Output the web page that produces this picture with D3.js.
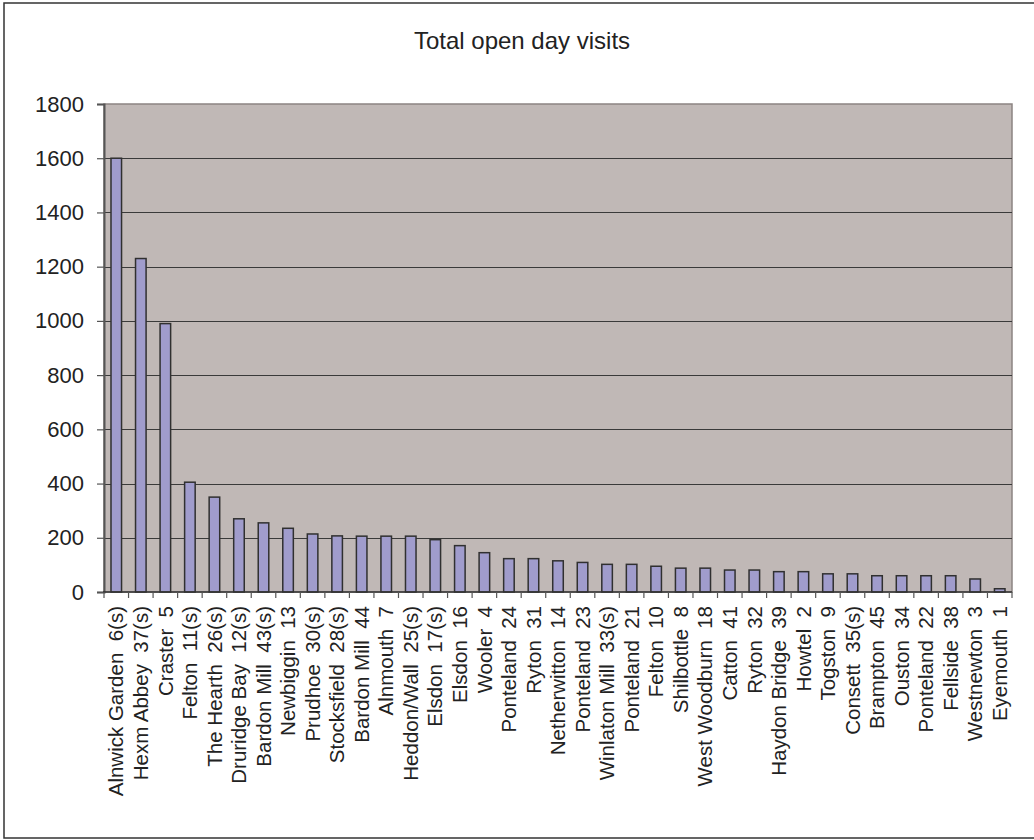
<!DOCTYPE html>
<html>
<head>
<meta charset="utf-8">
<script src="https://cdn.jsdelivr.net/npm/d3@7"></script>
<style>
  html, body { margin: 0; padding: 0; background: #fff; }
  svg { display: block; font-family: "Liberation Sans", Arial, sans-serif; }
</style>
</head>
<body>
<svg id="chart" width="1034" height="840"></svg>
<script>
// Open-day sites, in the order shown
const sites = [
  "Alnwick Garden  6(s)", "Hexm Abbey  37(s)", "Craster  5", "Felton  11(s)",
  "The Hearth  26(s)", "Druridge Bay  12(s)", "Bardon Mill  43(s)", "Newbiggin  13",
  "Prudhoe  30(s)", "Stocksfield  28(s)", "Bardon Mill  44", "Alnmouth  7",
  "Heddon/Wall  25(s)", "Elsdon  17(s)", "Elsdon  16", "Wooler  4",
  "Ponteland  24", "Ryton  31", "Netherwitton  14", "Ponteland  23",
  "Winlaton Mill  33(s)", "Ponteland  21", "Felton  10", "Shilbottle  8",
  "West Woodburn  18", "Catton  41", "Ryton  32", "Haydon Bridge  39",
  "Howtel  2", "Togston  9", "Consett  35(s)", "Brampton  45",
  "Ouston  34", "Ponteland  22", "Fellside  38", "Westnewton  3", "Eyemouth  1"
];

// Total visits per site
const visits = [
  1600, 1230, 990, 405,
  350, 270, 255, 235,
  214, 207, 206, 206,
  206, 193, 171, 145,
  123, 123, 115, 109,
  102, 102, 95, 88,
  88, 81, 81, 75,
  75, 67, 67, 60,
  60, 60, 60, 48, 12
];

const yTicks = [0, 200, 400, 600, 800, 1000, 1200, 1400, 1600, 1800];
const chartTitle = "Total open day visits";

const svg = d3.select("#chart");
const plot = { left: 104, top: 104, right: 1012, bottom: 592 };

// Outer frame
svg.append("rect")
  .attr("x", 4).attr("y", 3)
  .attr("width", 1040).attr("height", 835)
  .attr("fill", "#fff").attr("stroke", "#333").attr("stroke-width", 1.5);

const x = d3.scaleBand()
  .domain(sites)
  .range([plot.left, plot.right])
  .paddingInner(0.57)
  .paddingOuter(0.285);

const y = d3.scaleLinear()
  .domain([0, 1800])
  .range([plot.bottom, plot.top]);

// Plot area background
svg.append("rect")
  .attr("x", plot.left).attr("y", plot.top)
  .attr("width", plot.right - plot.left).attr("height", plot.bottom - plot.top)
  .attr("fill", "#c0b8b6")
  .attr("stroke", "#8c8482").attr("stroke-width", 1.5);

// Horizontal gridlines
svg.append("g")
  .selectAll("line")
  .data(yTicks.filter(d => d > 0 && d < 1800))
  .join("line")
  .attr("x1", plot.left).attr("x2", plot.right)
  .attr("y1", d => Math.round(y(d)) + 0.5).attr("y2", d => Math.round(y(d)) + 0.5)
  .attr("stroke", "#3a3a3a").attr("stroke-width", 1);

// Bars
svg.append("g")
  .selectAll("rect")
  .data(sites)
  .join("rect")
  .attr("x", d => x(d))
  .attr("y", (d, i) => y(visits[i]))
  .attr("width", x.bandwidth())
  .attr("height", (d, i) => y(0) - y(visits[i]))
  .attr("fill", "#a09ccc")
  .attr("stroke", "#303030")
  .attr("stroke-width", 1.5);

// Y axis
const yAxis = svg.append("g")
  .attr("transform", `translate(${plot.left},0)`)
  .call(d3.axisLeft(y).tickValues(yTicks).tickSize(7).tickPadding(13).tickFormat(d3.format("d")));
yAxis.select(".domain").attr("stroke", "#555").attr("stroke-width", 2);
yAxis.selectAll(".tick line").attr("stroke", "#555").attr("stroke-width", 1.2);
yAxis.selectAll(".tick text")
  .attr("fill", "#222")
  .style("font-size", "22px")
  .style("font-family", "'Liberation Sans', Arial, sans-serif");

// X axis: tick marks on band boundaries, rotated labels at band centres
const xAxisG = svg.append("g");
const step = x.step();
const boundaries = d3.range(sites.length + 1).map(i => plot.left + i * step);
xAxisG.append("line")
  .attr("x1", plot.left - 1).attr("x2", plot.right)
  .attr("y1", plot.bottom).attr("y2", plot.bottom)
  .attr("stroke", "#333").attr("stroke-width", 1.5);
xAxisG.selectAll("line.tk")
  .data(boundaries)
  .join("line")
  .attr("class", "tk")
  .attr("x1", d => d).attr("x2", d => d)
  .attr("y1", plot.bottom).attr("y2", plot.bottom + 6)
  .attr("stroke", "#555").attr("stroke-width", 1.2);
xAxisG.selectAll("text")
  .data(sites)
  .join("text")
  .attr("transform", d => `translate(${x(d) + x.bandwidth() / 2},${plot.bottom + 14}) rotate(-90)`)
  .attr("dy", "0.35em")
  .attr("text-anchor", "end")
  .attr("fill", "#222")
  .style("font-size", "20.5px")
  .style("white-space", "pre")
  .attr("xml:space", "preserve")
  .text(d => d);

// Title
svg.append("text")
  .attr("x", 522).attr("y", 49)
  .attr("text-anchor", "middle")
  .attr("fill", "#222")
  .style("font-size", "24px")
  .text(chartTitle);
</script>
</body>
</html>
